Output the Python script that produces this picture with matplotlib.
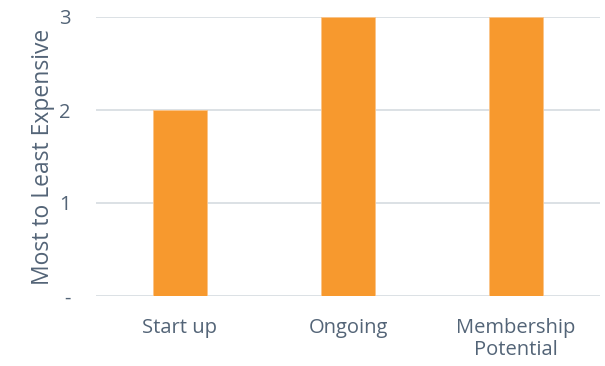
import matplotlib
matplotlib.use("Agg")
import matplotlib.pyplot as plt

# data
categories = ["Start up", "Ongoing", "Membership\nPotential"]
values = [2, 3, 3]
ytick_vals = [0, 1, 2, 3]
ytick_labels = ["-", "1", "2", "3"]

text_col = "#536477"
plt.rcParams['font.family'] = ['Open Sans', 'DejaVu Sans']

fig = plt.figure(figsize=(6.05, 3.66), dpi=100)
ax = fig.add_axes([96 / 605, 1 - 296 / 366, 504 / 605, 279 / 366])

x = list(range(len(categories)))
ax.bar(x, values, width=0.32, color="#F7992E", edgecolor="#FBC58A", linewidth=0.6, zorder=3)

ax.set_xlim(-0.5, len(categories) - 0.5)
ax.set_ylim(0, 3)
ax.set_yticks(ytick_vals)
ax.set_yticklabels(ytick_labels)
ax.set_xticks(x)
ax.set_xticklabels(categories, linespacing=1.1)
ax.grid(axis="y", color="#D9DEE3", linewidth=1.3, zorder=0)
for s in ax.spines.values():
    s.set_visible(False)
ax.tick_params(length=0, colors=text_col, labelsize=14.5)
ax.tick_params(axis="y", pad=18)
ax.tick_params(axis="x", pad=16)
ax.set_ylabel("Most to Least Expensive", color=text_col, fontsize=16.5, labelpad=3)

fig.savefig("out.png", dpi=100)
